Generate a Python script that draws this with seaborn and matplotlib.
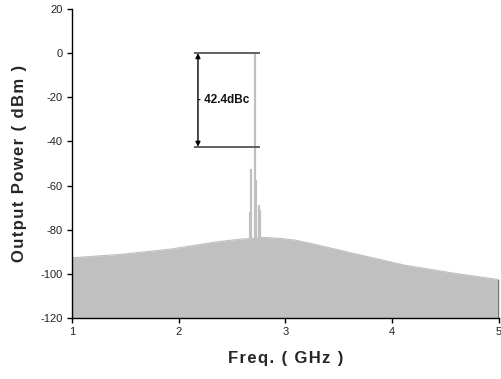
import numpy as np
import pandas as pd
import matplotlib
matplotlib.use("Agg")
import matplotlib.pyplot as plt
import seaborn as sns

# Noise floor (GHz, dBm)
floor_freq = [1.0, 1.45, 1.92, 2.34, 2.57, 2.81, 2.96, 3.09, 3.28, 3.51, 3.65, 3.75, 4.12, 4.59, 5.0]
floor_pow = [-92.7, -91.2, -88.8, -85.6, -84.3, -83.5, -84.0, -84.7, -86.7, -89.3, -90.9, -92.0, -96.1, -99.8, -102.6]

# Spurious/carrier spikes (GHz, dBm)
spike_freq = [2.664, 2.676, 2.710, 2.722, 2.750, 2.764]
spike_pow = [-72.0, -52.6, 0.0, -57.5, -69.0, -71.0]

carrier_level = 0.0
spur_level = -42.4
ann_label = "- 42.4dBc"

xticks = [1, 2, 3, 4, 5]
yticks = [20, 0, -20, -40, -60, -80, -100, -120]

x_title = "Freq. ( GHz )"
y_title = "Output Power ( dBm )"

sns.set_style("white")
plt.rcParams['font.family'] = ['Liberation Sans', 'DejaVu Sans']
plt.rcParams['axes.unicode_minus'] = False


def spaced(s):
    return "\u200a".join(s)


fig = plt.figure(figsize=(5.02, 3.79), dpi=100)
ax = fig.add_axes([72 / 502, 1 - 318 / 379, 427 / 502, 309 / 379])

gray = "#c0c0c0"
df = pd.DataFrame({"freq": floor_freq, "power": floor_pow})
sns.lineplot(data=df, x="freq", y="power", ax=ax, color=gray, lw=0.8)
ax.fill_between(df["freq"], -120, df["power"], color=gray, lw=0, zorder=2)
ax.vlines(spike_freq, -120, spike_pow, color=gray, lw=1.6, zorder=2)
ax.vlines([floor_freq[-1]], -120, [floor_pow[-1]], color="#666666", lw=1.2, zorder=3)

# annotation
ax.hlines([carrier_level, spur_level], 2.14, 2.76, color="#555555", lw=1.3, zorder=4)
ax.annotate("", xy=(2.18, carrier_level), xytext=(2.18, spur_level),
            arrowprops=dict(arrowstyle="<|-|>", color="black", lw=1.0,
                            mutation_scale=7, shrinkA=0, shrinkB=0), zorder=5)
ax.text(2.172, (carrier_level + spur_level) / 2, ann_label, fontsize=8.5,
        fontweight="bold", ha="left", va="center", color="#111111", zorder=6)

ax.set_xlim(1, 5)
ax.set_ylim(-120, 20)
ax.set_xticks(xticks)
ax.set_yticks(yticks)
ax.tick_params(axis="both", direction="out", length=3.5, width=1, color="black",
               labelsize=8, labelcolor="#222222", pad=3,
               left=True, bottom=True)
for s in ["top", "right"]:
    ax.spines[s].set_visible(False)
for s in ["left", "bottom"]:
    ax.spines[s].set_color("black")
    ax.spines[s].set_linewidth(1)

ax.set_xlabel(spaced(x_title), fontsize=12, fontweight="bold", labelpad=10)
ax.set_ylabel(spaced(y_title), fontsize=12, fontweight="bold", labelpad=10)

fig.savefig("out.png", dpi=100)
